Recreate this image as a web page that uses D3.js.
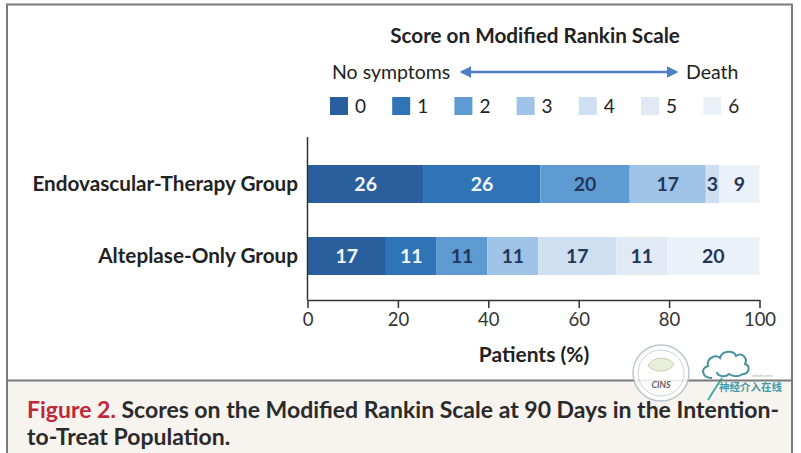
<!DOCTYPE html>
<html>
<head>
<meta charset="utf-8">
<script src="https://cdn.jsdelivr.net/npm/d3@7"></script>
<style>
  body { margin: 0; background: #fff; }
  svg { display: block; font-family: Lato, "Open Sans", sans-serif; }
</style>
</head>
<body>
<svg width="801" height="453"></svg>
<script>
// The data
const groups = ["Endovascular-Therapy Group", "Alteplase-Only Group"]
const scores = ["0", "1", "2", "3", "4", "5", "6"]
const endovascular = [26, 26, 20, 17, 3, 0, 9]
const alteplase = [17, 11, 11, 11, 17, 11, 20]
const xTicks = [0, 20, 40, 60, 80, 100]
const colors = ["#2a5f9e", "#2e74b7", "#5f9bd3", "#9fc3e6", "#cddff1", "#e0e9f4", "#ebf1f9"]

const svg = d3.select("svg"),
	width = +svg.attr("width"),
	height = +svg.attr("height");

// rows for the stack
const rows = groups.map(function (g, i) {
	const vals = i == 0 ? endovascular : alteplase
	let row = { group: g }
	scores.forEach(function (s, j) { row[s] = vals[j] })
	return row
})

const colorScale = d3.scaleOrdinal().domain(scores).range(colors)

const x = d3.scaleLinear().domain([0, 100]).range([307.5, 759.5])
const y = d3.scaleBand().domain(groups).range([148, 292])
	.paddingInner(0.472).paddingOuter(0.236)

// frame + caption box
svg.append("rect")
	.attr("x", 7).attr("y", 381).attr("width", 785).attr("height", 80)
	.attr("fill", "#f7f3ef")
svg.append("path")
	.attr("d", "M7,460V4.5H792V460 M7,380.5H792")
	.attr("fill", "none").attr("stroke", "#7a7a7a").attr("stroke-width", 2)

// title + arrow
svg.append("text")
	.attr("x", 535).attr("y", 43)
	.attr("text-anchor", "middle")
	.attr("font-size", 20.7).attr("font-weight", "bold").attr("fill", "#222")
	.text("Score on Modified Rankin Scale")

svg.append("text")
	.attr("x", 332).attr("y", 79)
	.attr("font-size", 19.5).attr("fill", "#222")
	.text("No symptoms")
svg.append("text")
	.attr("x", 686).attr("y", 79)
	.attr("font-size", 19.5).attr("fill", "#222")
	.text("Death")

const defs = svg.append("defs")
defs.append("marker")
	.attr("id", "ah").attr("viewBox", "0 0 10 10")
	.attr("refX", 8).attr("refY", 5)
	.attr("markerWidth", 4.5).attr("markerHeight", 4.5)
	.attr("orient", "auto-start-reverse")
	.append("path").attr("d", "M0,0L10,5L0,10z").attr("fill", "#4f7fc4")
svg.append("line")
	.attr("x1", 462).attr("x2", 676).attr("y1", 72).attr("y2", 72)
	.attr("stroke", "#4f7fc4").attr("stroke-width", 2.6)
	.attr("marker-start", "url(#ah)").attr("marker-end", "url(#ah)")

// legend
const legend = svg.append("g").attr("class", "legend")
legend.selectAll("rect")
	.data(scores)
	.join("rect")
	.attr("x", function (d, i) { return 330 + i * 62.2 })
	.attr("y", 97)
	.attr("width", 18).attr("height", 18)
	.attr("fill", function (d) { return colorScale(d) })
legend.selectAll("text")
	.data(scores)
	.join("text")
	.attr("x", function (d, i) { return 355 + i * 62.2 })
	.attr("y", 113)
	.attr("font-size", 19).attr("fill", "#222")
	.text(function (d) { return d })

// bars
const stacked = d3.stack().keys(scores).offset(d3.stackOffsetExpand)(rows)

const layers = svg.append("g")
	.selectAll("g")
	.data(stacked)
	.join("g")
	.attr("fill", function (d) { return colorScale(d.key) })

layers.selectAll("rect")
	.data(function (d) { return d })
	.join("rect")
	.attr("x", function (d) { return x(d[0] * 100) })
	.attr("y", function (d) { return y(d.data.group) })
	.attr("width", function (d) { return x(d[1] * 100) - x(d[0] * 100) })
	.attr("height", y.bandwidth())

layers.each(function (layer) {
	d3.select(this).selectAll("text")
		.data(layer.filter(function (d) { return d.data[layer.key] > 0 }))
		.join("text")
		.attr("x", function (d) { return (x(d[0] * 100) + x(d[1] * 100)) / 2 })
		.attr("y", function (d) { return y(d.data.group) + y.bandwidth() / 2 })
		.attr("dy", "0.36em")
		.attr("text-anchor", "middle")
		.attr("font-size", 19.5).attr("font-weight", "bold")
		.attr("fill", +layer.key < 2 ? "#f4f7fb" : "#24365a")
		.text(function (d) { return d.data[layer.key] })
})

// group labels
svg.append("g")
	.selectAll("text")
	.data(groups)
	.join("text")
	.attr("x", 298)
	.attr("y", function (d) { return y(d) + y.bandwidth() / 2 })
	.attr("dy", "0.36em")
	.attr("text-anchor", "end")
	.attr("font-size", 20.7).attr("font-weight", "bold").attr("fill", "#222")
	.text(function (d) { return d })

// axes
svg.append("line")
	.attr("x1", x(0)).attr("x2", x(0)).attr("y1", 137).attr("y2", 300)
	.attr("stroke", "#333").attr("stroke-width", 1.5)

const xAxis = svg.append("g")
	.attr("transform", "translate(0,300)")
	.call(d3.axisBottom(x).tickValues(xTicks).tickSize(8).tickSizeOuter(0).tickPadding(5))
xAxis.select(".domain").attr("stroke", "#333").attr("stroke-width", 1.5)
xAxis.selectAll(".tick line").attr("stroke", "#333").attr("stroke-width", 1.5)
xAxis.selectAll(".tick text")
	.attr("font-family", "Lato, sans-serif").attr("font-size", 18.5).attr("fill", "#333")

svg.append("text")
	.attr("x", 534).attr("y", 362)
	.attr("text-anchor", "middle")
	.attr("font-size", 21).attr("font-weight", "bold").attr("fill", "#222")
	.text("Patients (%)")

// caption
const cap = svg.append("text")
	.attr("font-size", 23).attr("font-weight", "bold").attr("fill", "#2a2a2a")
cap.append("tspan").attr("x", 27).attr("y", 418)
	.attr("fill", "#c0283a").text("Figure 2. ")
cap.append("tspan")
	.text("Scores on the Modified Rankin Scale at 90 Days in the Intention-")
cap.append("tspan").attr("x", 27).attr("y", 445)
	.text("to-Treat Population.")

// watermark
const wm = svg.append("g").attr("opacity", 0.85)
wm.append("circle").attr("cx", 661).attr("cy", 373).attr("r", 28)
	.attr("fill", "#fff").attr("stroke", "#b5bcc4").attr("stroke-width", 1.5)
wm.append("circle").attr("cx", 661).attr("cy", 373).attr("r", 23)
	.attr("fill", "none").attr("stroke", "#c8ced4").attr("stroke-width", 1)
wm.append("path")
	.attr("d", "M648,366c4,-10 20,-10 26,-2c-4,8 -18,10 -26,2z")
	.attr("fill", "#e6ecd2").attr("stroke", "#b9c4a6")
wm.append("text").attr("x", 661).attr("y", 388)
	.attr("text-anchor", "middle").attr("font-size", 9)
	.attr("font-style", "italic").attr("font-weight", "bold").attr("fill", "#445")
	.text("CINS")
wm.append("path")
	.attr("d", "M712,378c-10,0 -12,-10 -4,-12c-2,-8 8,-12 12,-8c2,-8 14,-8 16,-2c6,-4 12,2 9,8c6,2 4,10 -2,10c-4,3 -10,3 -14,0c-4,4 -12,2 -12,-2")
	.attr("fill", "none").attr("stroke", "#2a7f8f").attr("stroke-width", 2)
wm.append("path")
	.attr("d", "M722,378c-4,6 -8,12 -14,22")
	.attr("fill", "none").attr("stroke", "#2a9f9a").attr("stroke-width", 2)
wm.append("text").attr("x", 719).attr("y", 390.5)
	.attr("font-family", "Noto Sans CJK SC").attr("font-size", 10.5)
	.attr("font-weight", "bold").attr("fill", "#1f8a9a")
	.text("神经介入在线")
wm.append("text").attr("x", 752).attr("y", 377)
	.attr("font-size", 4.5).attr("fill", "#999")
	.text("zhishi.com")
</script>
</body>
</html>
